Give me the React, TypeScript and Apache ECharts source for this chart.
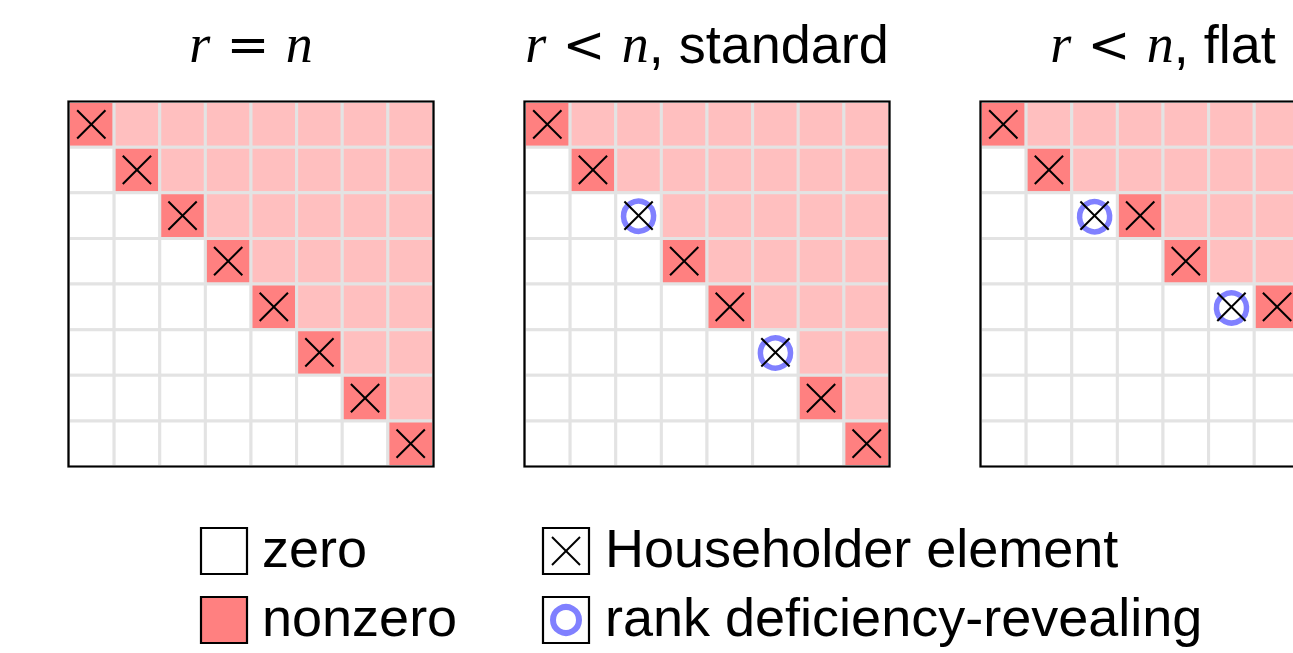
import React, { useEffect, useRef } from "react";
import * as echarts from "echarts";

// ---- data -------------------------------------------------------------
// '.' = zero, '+' = nonzero, 'X' = Householder element (nonzero),
// 'O' = rank deficiency-revealing (zero entry carrying a Householder element)
const matrixFullRank = [
  "X+++++++",
  ".X++++++",
  "..X+++++",
  "...X++++",
  "....X+++",
  ".....X++",
  "......X+",
  ".......X",
];
const matrixStandard = [
  "X+++++++",
  ".X++++++",
  "..O+++++",
  "...X++++",
  "....X+++",
  ".....O++",
  "......X+",
  ".......X",
];
const matrixFlat = [
  "X+++++++",
  ".X++++++",
  "..OX++++",
  "....X+++",
  ".....OX+",
  ".......X",
  "........",
  "........",
];
const matrices = [matrixFullRank, matrixStandard, matrixFlat];
const panelTitles = [
  "{i|r}{o| = }{i|n}",
  "{i|r}{o| < }{i|n}{s|, standard}",
  "{i|r}{o| < }{i|n}{s|, flat}",
];
const legendLabels = ["zero", "nonzero", "Householder element", "rank deficiency-revealing"];
const cellCodes: Record<string, number> = { ".": 0, "+": 1, X: 2, O: 3 };
const N = 8;

// ---- styles -----------------------------------------------------------
const ZERO = "#ffffff";
const NONZERO = "#ffbfbf";
const PIVOT = "#ff8080";
const GRIDLINE = "#e3e3e3";
const RING = "#8080ff";
const SANS = "'Liberation Sans', Arial, Helvetica, sans-serif";
const SERIF = "'Liberation Serif', 'Times New Roman', serif";
const OPS = "'DejaVu Serif', serif";
const FS = 54;

const panelLefts = [68.5, 524.5, 980.5];
const panelTop = 101.5;
const panelSize = 365;

function renderCell(params: any, api: any) {
  const c = api.value(0);
  const r = api.value(1);
  const k = api.value(2);
  const p0 = api.coord([c, r]);
  const p1 = api.coord([c + 1, r + 1]);
  const x = p0[0];
  const y = p0[1];
  const w = p1[0] - p0[0];
  const h = p1[1] - p0[1];
  const cx = x + w / 2;
  const cy = y + h / 2;
  const children: any[] = [
    {
      type: "rect",
      shape: { x, y, width: w, height: h },
      style: { fill: k === 1 ? NONZERO : k === 2 ? PIVOT : ZERO, stroke: GRIDLINE, lineWidth: 3 },
    },
  ];
  if (k === 3) {
    children.push({
      type: "circle",
      shape: { cx, cy, r: w * 0.33 },
      style: { fill: "none", stroke: RING, lineWidth: 5.5 },
    });
  }
  if (k >= 2) {
    const d = w * 0.31;
    children.push(
      { type: "line", shape: { x1: cx - d, y1: cy - d, x2: cx + d, y2: cy + d }, style: { stroke: "#000", lineWidth: 2 } },
      { type: "line", shape: { x1: cx - d, y1: cy + d, x2: cx + d, y2: cy - d }, style: { stroke: "#000", lineWidth: 2 } }
    );
  }
  return { type: "group", children };
}

function renderFrame(params: any, api: any) {
  const p0 = api.coord([0, 0]);
  const p1 = api.coord([N, N]);
  return {
    type: "rect",
    shape: { x: p0[0], y: p0[1], width: p1[0] - p0[0], height: p1[1] - p0[1] },
    style: { fill: "none", stroke: "#000", lineWidth: 2.2 },
  };
}

function buildOption() {
  const grid: any[] = [];
  const xAxis: any[] = [];
  const yAxis: any[] = [];
  const series: any[] = [];
  const graphic: any[] = [];

  matrices.forEach((m, i) => {
    grid.push({ left: panelLefts[i], top: panelTop, width: panelSize, height: panelSize, containLabel: false });
    xAxis.push({ type: "value", gridIndex: i, min: 0, max: N, show: false });
    yAxis.push({ type: "value", gridIndex: i, min: 0, max: N, inverse: true, show: false });
    const data: number[][] = [];
    m.forEach((row, r) => {
      row.split("").forEach((ch, c) => data.push([c, r, cellCodes[ch]]));
    });
    series.push({
      type: "custom",
      xAxisIndex: i,
      yAxisIndex: i,
      renderItem: renderCell,
      data,
      silent: true,
      z: 2,
    });
    series.push({
      type: "custom",
      xAxisIndex: i,
      yAxisIndex: i,
      renderItem: renderFrame,
      data: [[0, 0]],
      silent: true,
      z: 5,
    });
    graphic.push({
      type: "text",
      x: panelLefts[i] + panelSize / 2,
      y: 44,
      silent: true,
      style: {
        text: panelTitles[i],
        align: "center",
        verticalAlign: "middle",
        fill: "#000",
        rich: {
          i: { fontFamily: SERIF, fontStyle: "italic", fontSize: FS, fill: "#000" },
          o: { fontFamily: OPS, fontSize: FS * 0.95, fill: "#000" },
          s: { fontFamily: SANS, fontSize: FS, fill: "#000" },
        },
      },
    });
  });

  // legend
  const box = 46;
  const legendItems = [
    { x: 201, y: 528, label: legendLabels[0], kind: 0 },
    { x: 201, y: 597, label: legendLabels[1], kind: 1 },
    { x: 543, y: 528, label: legendLabels[2], kind: 2 },
    { x: 543, y: 597, label: legendLabels[3], kind: 3 },
  ];
  legendItems.forEach((it) => {
    graphic.push({
      type: "rect",
      shape: { x: it.x, y: it.y, width: box, height: box },
      style: { fill: it.kind === 1 ? PIVOT : "#fff", stroke: "#000", lineWidth: 2.2 },
      silent: true,
    });
    const cx = it.x + box / 2;
    const cy = it.y + box / 2;
    if (it.kind === 2) {
      const d = 14;
      graphic.push(
        { type: "line", shape: { x1: cx - d, y1: cy - d, x2: cx + d, y2: cy + d }, style: { stroke: "#000", lineWidth: 2 }, silent: true },
        { type: "line", shape: { x1: cx - d, y1: cy + d, x2: cx + d, y2: cy - d }, style: { stroke: "#000", lineWidth: 2 }, silent: true }
      );
    }
    if (it.kind === 3) {
      graphic.push({ type: "circle", shape: { cx, cy, r: 13 }, style: { fill: "none", stroke: RING, lineWidth: 6 }, silent: true });
    }
    graphic.push({
      type: "text",
      x: it.kind < 2 ? 262 : 605,
      y: it.y + 20,
      silent: true,
      style: {
        text: it.label,
        fontFamily: SANS,
        fontSize: FS,
        fill: "#000",
        align: "left",
        verticalAlign: "middle",
      },
    });
  });

  return {
    animation: false,
    backgroundColor: "#ffffff",
    grid,
    xAxis,
    yAxis,
    series,
    graphic,
  };
}

export default function App() {
  const ref = useRef<HTMLDivElement>(null);
  useEffect(() => {
    if (!ref.current) return;
    const chart = echarts.init(ref.current, undefined, { renderer: "svg" });
    chart.setOption(buildOption() as any);
    return () => chart.dispose();
  }, []);
  return (
    <div
      style={{
        position: "absolute",
        left: 0,
        top: 0,
        width: 1293,
        height: 653,
        overflow: "hidden",
        background: "#fff",
      }}
    >
      <div ref={ref} style={{ width: 1400, height: 653 }} />
    </div>
  );
}
